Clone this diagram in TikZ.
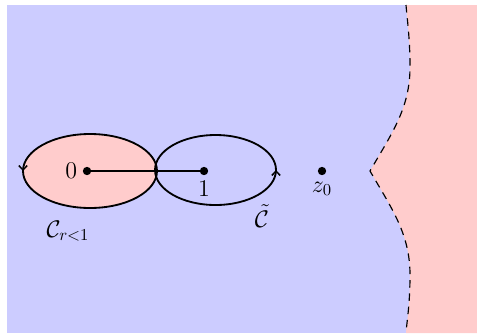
\documentclass[tikz,border=0pt]{standalone}
\usetikzlibrary{arrows.meta,decorations.markings}
\definecolor{bluec}{HTML}{CCCCFF}
\definecolor{pinkc}{HTML}{FFCCCC}
\tikzset{
  dot/.style={circle,fill=black,inner sep=0pt,minimum size=5pt},
  contour/.style={line width=1.1pt},
  barb/.tip={Straight Barb[length=2.6pt,width=5pt]},
  boundary/.style={line width=0.7pt,dash pattern=on 4.5pt off 3.5pt},
  lab/.style={font=\fontsize{14}{16}\selectfont,inner sep=1pt}
}
\begin{document}
\begin{tikzpicture}[x=0.6pt,y=0.6pt]
\useasboundingbox (0,0) rectangle (477,333);
\coordinate (top) at (406,328);
\coordinate (cusp) at (370,162);
\coordinate (bot) at (406,0);
% regions
\fill[bluec] (7,0) rectangle (477,328);
\fill[pinkc] (477,328) -- (top) .. controls (407,315) and (410,295) .. (410,266)
  .. controls (410,225) and (392,200) .. (cusp)
  .. controls (392,124) and (410,99) .. (410,58)
  .. controls (410,29) and (407,13) .. (bot) -- (477,0) -- cycle;
\draw[boundary] (top) .. controls (407,315) and (410,295) .. (410,266)
  .. controls (410,225) and (392,200) .. (cusp)
  .. controls (392,124) and (410,99) .. (410,58)
  .. controls (410,29) and (407,13) .. (bot);
% contours
\draw[contour,fill=pinkc,postaction={decorate},
  decoration={markings,mark=at position 0.5 with {\arrow[line width=0.9pt]{barb}}}]
  (90,162) ellipse [x radius=67,y radius=37];
\draw[contour,postaction={decorate},
  decoration={markings,mark=at position 0.5 with {\arrow[line width=0.9pt]{barb}}}]
  (155,163) arc[start angle=180,end angle=540,x radius=60.5,y radius=35];
% points
\node[dot] (p0) at (87,162) {};
\node[dot] (p1) at (204,162) {};
\node[dot] (pz) at (322,162) {};
\draw[contour] (p0.center) -- (p1.center);
% labels
\node[lab,anchor=east] (l0) at (79,162) {$0$};
\node[lab] (l1) at (204,144) {$1$};
\node[lab] (lz) at (322,144) {$z_0$};
\node[lab] (lc) at (262,117) {$\tilde{\mathcal{C}}$};
\node[lab] (lr) at (68,102) {$\mathcal{C}_{r<1}$};
\end{tikzpicture}
\end{document}
